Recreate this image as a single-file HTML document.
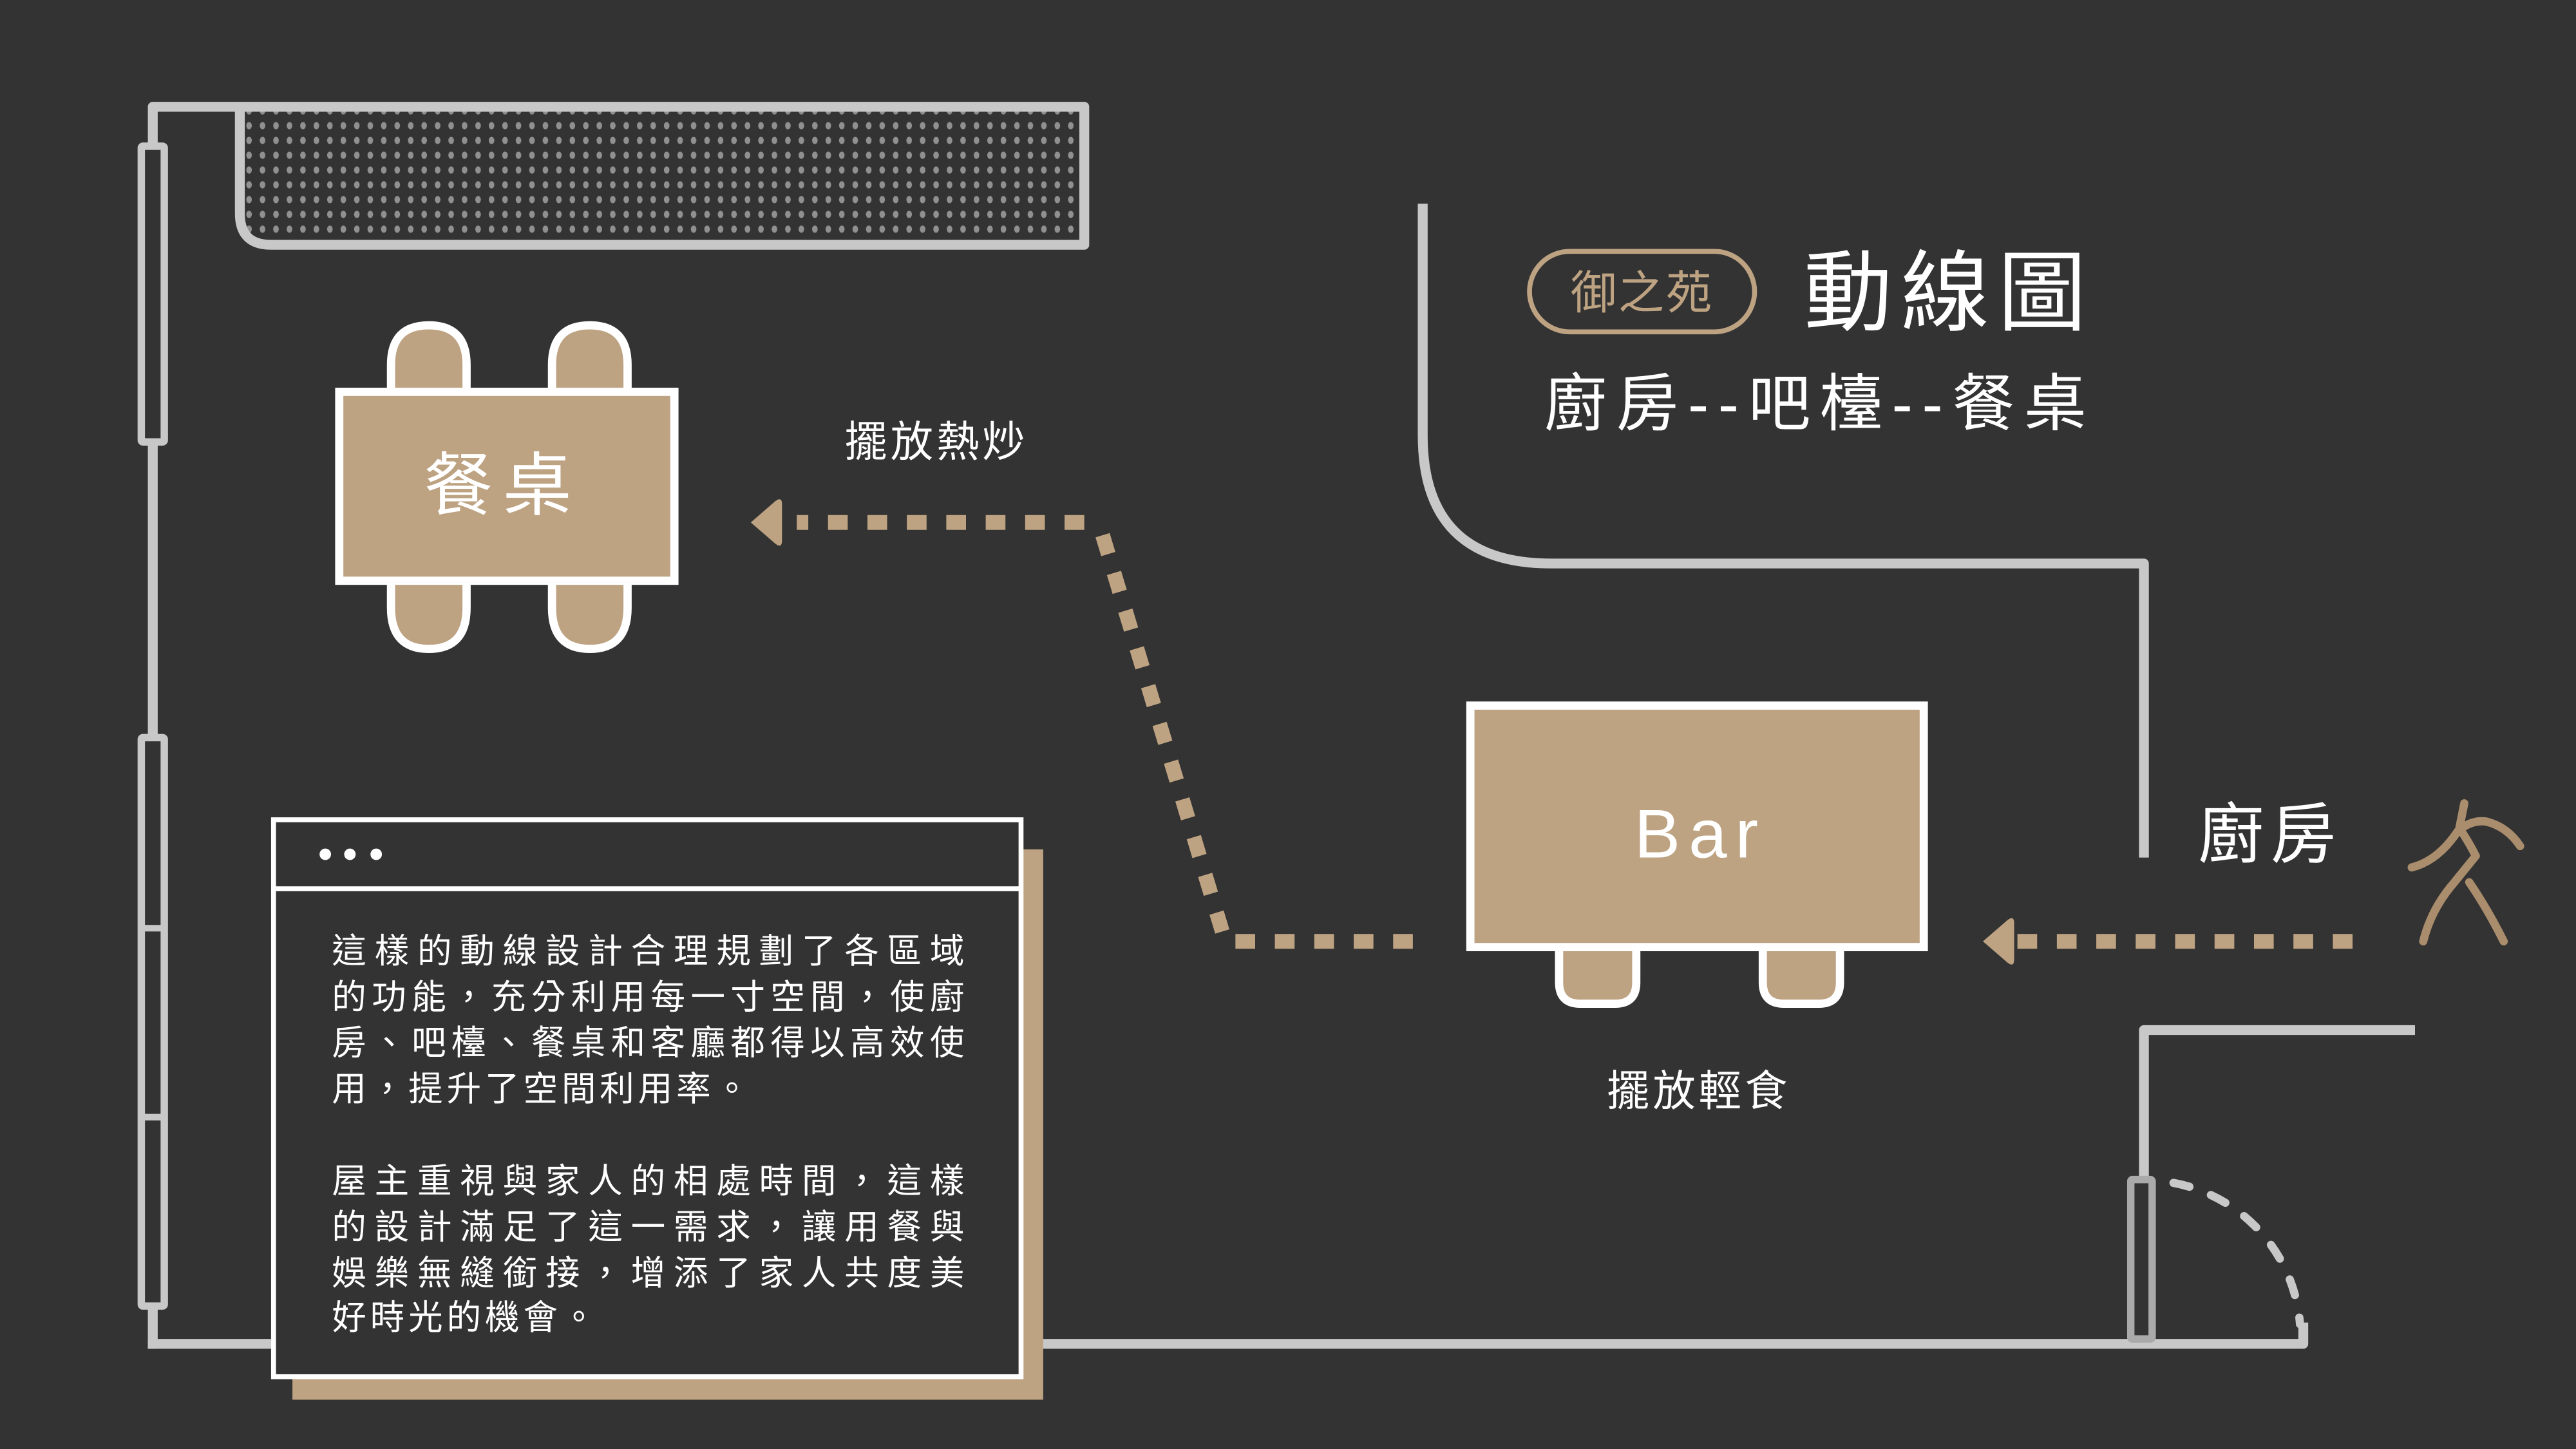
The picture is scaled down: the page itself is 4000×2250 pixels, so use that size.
<!DOCTYPE html>
<html><head><meta charset="utf-8"><style>
html,body{margin:0;padding:0;background:#333333;}
svg{display:block;}
text{font-family:"Liberation Sans","Noto Sans CJK TC",sans-serif;}
</style></head><body>
<svg width="4000" height="2250" viewBox="0 0 1568 882" xmlns="http://www.w3.org/2000/svg">
<defs>
<pattern id="dots" x="0" y="0" width="8.2" height="9" patternUnits="userSpaceOnUse">
<ellipse cx="4" cy="4.5" rx="1.7" ry="2.2" fill="#909090"/>
</pattern>
</defs>
<rect width="1568" height="882" fill="#333333"/>

<!-- counter -->
<path d="M149,66 L657,66 L657,147 L165,147 Q149,147 149,131 Z" fill="url(#dots)"/>
<g fill="none" stroke="#c8c8c8" stroke-width="6" stroke-linejoin="round" stroke-linecap="square">
<path d="M93,818 L93,65 L660,65 L660,149 L165,149 Q146,149 146,130 L146,65"/>
<path d="M93,818 L1402,818 L1402,808"/>
<path d="M866,124 L866,265 Q866,343 944,343 L1305,343 L1305,522" stroke-linecap="butt"/>
<path d="M1305,818 L1305,627 L1470,627" stroke-linecap="butt"/>
</g>
<!-- left windows -->
<g fill="#333" stroke="#c8c8c8" stroke-width="4.5">
<rect x="86" y="89" width="14" height="180" rx="1"/>
<rect x="86" y="449" width="14" height="346" rx="1"/>
</g>
<g stroke="#c8c8c8" stroke-width="4"><line x1="86" y1="565" x2="100" y2="565"/><line x1="86" y1="680" x2="100" y2="680"/></g>
<!-- door -->
<rect x="1297" y="718" width="13" height="97" fill="#333" stroke="#aaaaaa" stroke-width="4.5" rx="1"/>
<path d="M1323,720 A95,95 0 0 1 1400,806" fill="none" stroke="#c8c8c8" stroke-width="5" stroke-linecap="round" stroke-dasharray="10,14"/>

<!-- dining chairs -->
<g fill="#bea383" stroke="#fff" stroke-width="5">
<path d="M238,245 L238,222 Q238,198 261,198 Q284,198 284,222 L284,245 Z"/>
<path d="M336,245 L336,222 Q336,198 359,198 Q382,198 382,222 L382,245 Z"/>
<path d="M238,348 L238,370 Q238,395 261,395 Q284,395 284,370 L284,348 Z"/>
<path d="M336,348 L336,370 Q336,395 359,395 Q382,395 382,370 L382,348 Z"/>
<rect x="206.5" y="238.5" width="204" height="115"/>
</g>
<text x="306" y="310" font-size="42" fill="#fff" text-anchor="middle" letter-spacing="6">餐桌</text>

<!-- bar -->
<g fill="#bea383" stroke="#fff" stroke-width="5">
<path d="M949,570 L949,598 Q949,611 962,611 L983,611 Q996,611 996,598 L996,570 Z"/>
<path d="M1073,570 L1073,598 Q1073,611 1086,611 L1107,611 Q1120,611 1120,598 L1120,570 Z"/>
<rect x="895" y="429.5" width="276" height="147"/>
</g>
<text x="1035" y="522" font-size="42" fill="#fff" text-anchor="middle" letter-spacing="5">Bar</text>

<!-- labels -->
<text x="570" y="278" font-size="26" fill="#fff" text-anchor="middle" letter-spacing="2">擺放熱炒</text>
<text x="1034" y="673" font-size="26" fill="#fff" text-anchor="middle" letter-spacing="2">擺放輕食</text>
<text x="1382" y="522" font-size="40" fill="#fff" text-anchor="middle" letter-spacing="4">廚房</text>

<!-- dotted flows -->
<g fill="none" stroke="#bea383" stroke-width="9">
<path d="M860,573 L748,573" stroke-dasharray="12,12"/>
<path d="M744,567 L670,322" stroke-dasharray="12,12"/>
<path d="M660,318 L485,318" stroke-dasharray="12,12"/>
<path d="M1432,573 L1228,573" stroke-dasharray="12,12"/>
</g>
<g fill="#bea383">
<path d="M457,318 L472,305 Q476,302 476,307 L476,329 Q476,334 472,331 Z"/>
<path d="M1207,573 L1222,560 Q1226,557 1226,562 L1226,584 Q1226,589 1222,586 Z"/>
</g>

<!-- walking figure -->
<g fill="none" stroke="#a98d6c" stroke-width="5" stroke-linecap="round" stroke-linejoin="round">
<path d="M1500,489 L1497,504 Q1503,513 1507,521 L1494,537 Q1480,553 1475,573"/>
<path d="M1468,528 Q1484,524 1496,506 Q1504,499 1513,500 Q1526,503 1534,515"/>
<path d="M1503,537 Q1514,553 1524,573"/>
</g>

<!-- title -->
<rect x="931" y="153" width="137" height="49" rx="24.5" fill="none" stroke="#bea383" stroke-width="3"/>
<text x="999.5" y="188" font-size="28" fill="#bea383" text-anchor="middle" letter-spacing="1">御之苑</text>
<text x="1098" y="197" font-size="54" fill="#fff" letter-spacing="5">動線圖</text>
<text x="940" y="259" font-size="38" fill="#fff" textLength="330" lengthAdjust="spacing">廚房--吧檯--餐桌</text>

<!-- text box -->
<rect x="178" y="517" width="457" height="335" fill="#bea383"/>
<rect x="166.5" y="499" width="455" height="339" fill="#333" stroke="#fff" stroke-width="3"/>
<line x1="166.5" y1="541" x2="621.5" y2="541" stroke="#fff" stroke-width="3"/>
<g fill="#fff"><circle cx="198" cy="520" r="3.5"/><circle cx="213" cy="520" r="3.5"/><circle cx="229" cy="520" r="3.5"/></g>
<g font-size="21" fill="#fff">
<text x="202" y="586" textLength="385" lengthAdjust="spacing">這樣的動線設計合理規劃了各區域</text>
<text x="202" y="614" textLength="385" lengthAdjust="spacing">的功能，充分利用每一寸空間，使廚</text>
<text x="202" y="642" textLength="385" lengthAdjust="spacing">房、吧檯、餐桌和客廳都得以高效使</text>
<text x="202" y="670" letter-spacing="2.3">用，提升了空間利用率。</text>
<text x="202" y="726" textLength="385" lengthAdjust="spacing">屋主重視與家人的相處時間，這樣</text>
<text x="202" y="754" textLength="385" lengthAdjust="spacing">的設計滿足了這一需求，讓用餐與</text>
<text x="202" y="782" textLength="385" lengthAdjust="spacing">娛樂無縫銜接，增添了家人共度美</text>
<text x="202" y="809" letter-spacing="2.3">好時光的機會。</text>
</g>
</svg>
</body></html>
